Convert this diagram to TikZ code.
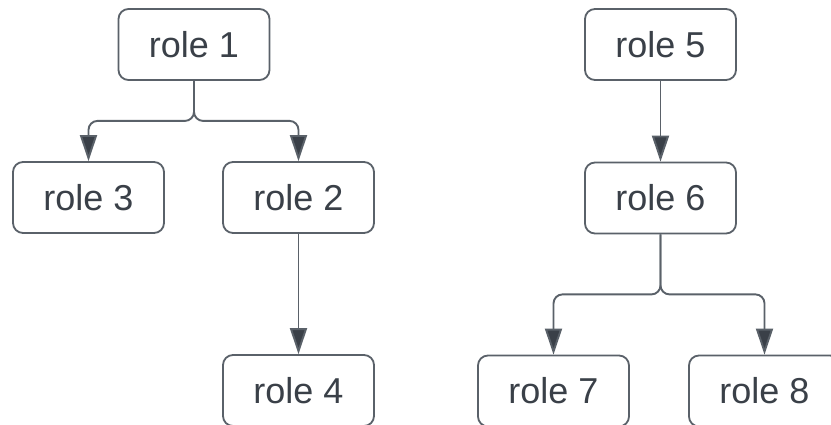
\documentclass[tikz,border=0pt]{standalone}
\usepackage{fontspec}
\setmainfont{Liberation Sans}
\usetikzlibrary{arrows.meta}
\definecolor{edge}{HTML}{5A6169}
\definecolor{ink}{HTML}{3A4048}
\tikzset{
  role/.style={draw=edge, line width=1.8pt, rounded corners=10pt, fill=white,
    minimum width=151pt, minimum height=71pt, inner sep=0pt,
    text=ink, font=\fontsize{36}{42}\selectfont},
  link/.style={draw=edge, line width=1.9pt, rounded corners=9pt,
    -{Triangle[width=17pt,length=26pt,fill=ink]}}
}
\begin{document}
\begin{tikzpicture}[x=1pt,y=-1pt]
  \useasboundingbox (0,0) rectangle (831,425);
  \clip (0,0) rectangle (831,425);
  \fill[white] (0,0) rectangle (831,425);
  % left tree
  \node[role] (r1) at (194,44.5) {role 1};
  \node[role] (r3) at (88.5,197.5) {role 3};
  \node[role] (r2) at (298.5,197.5) {role 2};
  \node[role] (r4) at (298.5,390.5) {role 4};
  % right tree
  \node[role] (r5) at (660.5,44.5) {role 5};
  \node[role] (r6) at (660.5,198) {role 6};
  \node[role] (r7) at (553.5,391) {role 7};
  \node[role] (r8) at (764.5,391) {role 8};
  % connectors
  \draw[link] (r1.south) -- ++(0,40) -| (r3.north);
  \draw[link] (r1.south) -- ++(0,40) -| (r2.north);
  \draw[link] (r2.south) -- (r4.north);
  \draw[link] (r5.south) -- (r6.north);
  \draw[link] (r6.south) -- ++(0,60) -| (r7.north);
  \draw[link] (r6.south) -- ++(0,60) -| (r8.north);
\end{tikzpicture}
\end{document}
